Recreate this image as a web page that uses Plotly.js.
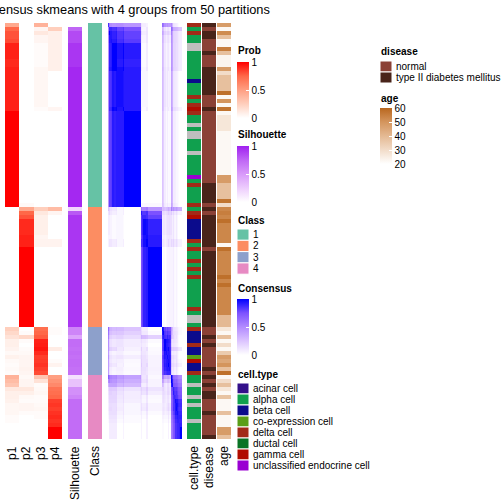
<!DOCTYPE html>
<html><head><meta charset="utf-8">
<script src="https://cdn.plot.ly/plotly-3.0.1.min.js"></script>
<style>html,body{margin:0;padding:0;background:#fff}#chart{width:504px;height:504px}</style>
</head><body><div id="chart"></div>
<script>
// ---------------- data (one entry per sample/row, top to bottom) ----------------
const p1 = [
0.45,0.75,0.8,0.8,0.82,0.92,0.92,0.92,0.92,0.9,
0.9,0.92,0.92,0.92,0.92,0.92,0.92,0.92,0.92,0.92,
0.92,0.92,1,1,1,1,1,1,1,1,
1,1,1,1,1,1,1,1,1,1,
1,1,1,1,1,1,
0,0,0,0,0,0,0,0,0,0,0,0,0,0,0,0,0,0,0,0,0,0,0,0,0,0,0,0,0,0,
0.25,0.2,0.15,0.08,0.08,0.06,0.03,0.07,0.03,0.02,0.03,0.02,
0.4,0.35,0.3,0.12,0.08,0.08,0.07,0.04,0.04,0.04,0.02,0.02,0,0,0,0];
const p2 = [
0,0,0,0,0,0,0,0,0,0,0,0,0,0,0,0,0,0,0,0,0,0,0,0,0,0,0,0,0,0,
0,0,0,0,0,0,0,0,0,0,0,0,0,0,0,0.03,
0.45,0.75,0.8,0.9,0.9,0.9,0.9,0.92,0.92,0.92,
1,1,1,1,1,1,1,1,1,1,1,1,1,1,1,1,1,1,1,1,
0,0.02,0.2,0.02,0,0.02,0.03,0.05,0.05,0.05,0.06,0.05,
0.03,0.05,0.05,0.12,0.08,0.03,0.02,0.05,0.05,0.02,0,0,0,0,0,0];
const p3 = [
0.4,0.05,0.12,0.05,0.05,0.02,0.02,0.02,0.02,0.02,
0.02,0.04,0.04,0.04,0.04,0.04,0.04,0.04,0.04,0.04,
0.04,0.02,0,0,0,0,0,0,0,0,0,0,0,0,0,0,0,0,0,0,0,0,0,0,0,0,
0.25,0.12,0.08,0.08,0.08,0.08,0.08,0.05,0.06,0.06,
0,0,0,0,0,0,0,0,0,0,0,0,0,0,0,0,0,0,0,0,
0.72,0.75,0.78,0.92,0.93,0.95,0.9,0.85,0.86,0.88,0.85,0.82,
0.3,0.15,0.02,0.03,0.04,0.02,0.02,0.03,0.04,0.02,0.02,0,0,0,0,0];
const p4 = [
0,0.25,0.08,0.08,0.08,0.08,0.08,0.08,0.08,0.08,
0.08,0.08,0,0,0,0,0,0,0,0,
0,0.05,0,0,0,0,0,0,0,0,0,0,0,0,0,0,0,0,0,0,0,0,0,0,0,0,
0.35,0.05,0,0,0,0,0,0,0.06,0.06,
0,0,0,0,0,0,0,0,0,0,0,0,0,0,0,0,0,0,0,0,
0.02,0.02,0,0,0,0.1,0,0,0.02,0.06,0,0,
0.5,0.55,0.6,0.7,0.72,0.75,0.85,0.87,0.85,0.88,0.9,0.88,0.9,1,1,1];
const silhouette = [
0,0.75,0.85,0.85,0.85,0.92,0.92,0.92,0.92,0.92,
0.92,0.97,0.97,0.97,0.97,0.97,0.97,0.97,0.97,0.97,
0.97,0.97,0.97,0.97,0.97,0.97,0.97,0.97,0.97,0.97,
0.97,0.97,0.97,0.97,0.97,0.97,0.97,0.97,0.97,0.97,
0.97,0.97,0.97,0.97,0.97,0.97,
0.2,0.8,0.92,0.92,0.92,0.92,0.92,0.92,0.92,0.92,
0.92,0.92,0.92,0.92,0.92,0.92,0.92,0.92,0.92,0.92,
0.92,0.92,0.92,0.92,0.92,0.92,0.92,0.92,0.92,0.92,
0.6,0.6,0.45,0.72,0.72,0.7,0.72,0.7,0.72,0.72,0.7,0.7,
0.15,0.3,0.3,0.55,0.55,0.6,0.72,0.72,0.72,0.72,0.72,0.72,0.72,0.72,0.72,0.72];
const classOf = [
1,1,1,1,1,1,1,1,1,1,1,1,1,1,1,1,1,1,1,1,1,1,1,1,1,1,1,1,1,1,
1,1,1,1,1,1,1,1,1,1,1,1,1,1,1,1,
2,2,2,2,2,2,2,2,2,2,2,2,2,2,2,2,2,2,2,2,2,2,2,2,2,2,2,2,2,2,
3,3,3,3,3,3,3,3,3,3,3,3,
4,4,4,4,4,4,4,4,4,4,4,4,4,4,4,4];
// cell.type codes: A acinar, L alpha, B beta, C co-expression, D delta, U ductal, G gamma, X unclassified, N missing
const cellTypeCodes = (
  "DLDLLNNLLL" + "LLLLBLLLDL" + "DGDLLNLNNL" + "LLNLLLLLXL" + "DLLLLD" +
  "LDGBBBBBDLDLLDLDLDLLLLLLLDLNNL" +
  "DBBBDBBCGBBD" +
  "LLNLLNLNLLLNLLLL").split("");
// disease codes: n normal, t type II diabetes mellitus
const diseaseCodes = (
  "tnttnnntnn" + "ntttttttnn" + "ntnnnnnnnn" + "nnnnnnnnnn" + "tttttn" +
  "tnttttttttnttttttttttttttttttt" +
  "nntntnnnnntn" +
  "tntnttnnntnnnnnt").split("");
const age = [
48,22,52,38,22,22,55,38,23,23,23,48,30,38,38,38,38,58,22,50,
22,57,22,27,27,27,27,22,22,22,22,22,22,22,22,22,22,22,48,48,
38,38,38,38,57,30,
53,55,53,58,53,53,53,53,53,22,58,53,53,53,53,53,53,58,53,58,
53,53,53,53,53,53,53,40,40,40,
27,22,38,22,30,22,35,48,45,50,38,58,
22,30,38,27,22,37,22,22,22,38,22,22,22,48,48,38];

const classLabels = ["1","2","3","4"];
const classColors = ["#66C2A5","#FC8D62","#8DA0CB","#E78AC3"];
const cellTypeKeys = ["A","L","B","C","D","U","G","X"];
const cellTypeLabels = ["acinar cell","alpha cell","beta cell","co-expression cell","delta cell","ductal cell","gamma cell","unclassified endocrine cell"];
const cellTypeColors = ["#33108A","#10A04E","#0B0B8C","#5A9E18","#A22A18","#0A7325","#B00C00","#9A00D2"];
const naColor = "#BEBEBE";
const diseaseKeys = ["n","t"];
const diseaseLabels = ["normal","type II diabetes mellitus"];
const diseaseColors = ["#8B4136","#49241A"];
const columnLabels = ["p1","p2","p3","p4","Silhouette","Class","cell.type","disease","age"];

// ---------------- layout constants (pixels) ----------------
const W = 504, H = 504;
const TOP = 23, BOTTOM = 439;
const N = p1.length;
const FONT = "Liberation Sans, Arial, Helvetica, sans-serif";
const px = v => v / W;
const py = v => 1 - v / H;

const rowEdges = Array.from({length: N + 1}, (_, i) => i);
const col = v => v.map(x => [x]);

const probScale = [[0,'#FFFFFF'],[0.25,'#FFCFBD'],[0.5,'#FF9F82'],[0.75,'#FF6848'],[1,'#FF0000']];
const silScale = [[0,'#FFFFFF'],[0.25,'#EDCCFD'],[0.5,'#D89AFA'],[0.75,'#BF66F5'],[1,'#A020F0']];
const consScale = [[0,'#FFFFFF'],[0.25,'#DCC4FF'],[0.5,'#B28BFF'],[0.75,'#7D52FF'],[1,'#0000FF']];
const ageScale = [[0,'#FFFFFF'],[0.25,'#F2DCC9'],[0.5,'#E4B993'],[0.75,'#D4955D'],[1,'#B9671E']];

function discreteScale(colors){
  const n = colors.length, s = [];
  colors.forEach((c,k)=>{ s.push([k/n,c]); s.push([(k+1)/n,c]); });
  return s;
}

// consensus matrix built from membership values
const P = p1.map((_, i) => [p1[i], p2[i], p3[i], p4[i]]);
const consensus = P.map(a => P.map(b => Math.min(1, a.reduce((s, v, k) => s + Math.min(v, b[k]), 0))));

const ctIdx = cellTypeCodes.map(c => { const k = cellTypeKeys.indexOf(c); return k < 0 ? cellTypeKeys.length : k; });
const dzIdx = diseaseCodes.map(c => diseaseKeys.indexOf(c));
const clIdx = classOf.map(c => classLabels.indexOf(String(c)));

const base = {type:'heatmap', y: rowEdges, hoverinfo:'skip', zsmooth:false};
const cb = (x, ytop, len, tickvals, ticktext) => ({
  x: px(x), xanchor:'left', y: py(ytop), yanchor:'top',
  len: len, lenmode:'pixels', thickness: 12, thicknessmode:'pixels',
  xpad:0, ypad:0, outlinewidth:0, borderwidth:0,
  tickvals, ticktext, ticks:'inside', ticklen:3, tickcolor:'white', tickwidth:1,
  tickfont:{family:FONT, size:10, color:'#000'}
});

const traces = [
  Object.assign({}, base, {x:[5,19.25,33.5,47.75,62], z: P, coloraxis:'coloraxis'}),
  Object.assign({}, base, {x:[68,82], z: col(silhouette), coloraxis:'coloraxis2'}),
  Object.assign({}, base, {x:[88,102], z: col(clIdx), colorscale: discreteScale(classColors), zmin:-0.5, zmax:classColors.length-0.5, showscale:false}),
  Object.assign({}, base, {x: rowEdges, xaxis:'x2', z: consensus, coloraxis:'coloraxis3'}),
  Object.assign({}, base, {x:[187,201], z: col(ctIdx), colorscale: discreteScale(cellTypeColors.concat([naColor])), zmin:-0.5, zmax:cellTypeColors.length+0.5, showscale:false}),
  Object.assign({}, base, {x:[202,216], z: col(dzIdx), colorscale: discreteScale(diseaseColors), zmin:-0.5, zmax:diseaseColors.length-0.5, showscale:false}),
  Object.assign({}, base, {x:[217,231], z: col(age), coloraxis:'coloraxis4'})
];

const annotations = [];
const shapes = [];
annotations.push({text:"Consensus skmeans with 4 groups from 50 partitions", x:px(272), xanchor:'right', y:py(9.5), yanchor:'middle',
  xref:'paper', yref:'paper', showarrow:false, font:{family:FONT, size:12.8, color:'#000'}});
const labelX = [12,26,41,55,75,95,194,209,224];
columnLabels.forEach((t,i)=>annotations.push({text:t, x:px(labelX[i]), xanchor:'center', y:py(444), yanchor:'top', textangle:-90,
  xref:'paper', yref:'paper', showarrow:false, font:{family:FONT, size:12, color:'#000'}}));
const title = (t, x, y) => annotations.push({text:'<b>'+t+'</b>', x:px(x), xanchor:'left', y:py(y), yanchor:'middle',
  xref:'paper', yref:'paper', showarrow:false, font:{family:FONT, size:10, color:'#000'}});
title('Prob',236,51); title('Silhouette',236,135); title('Class',236,220); title('Consensus',236,288.5); title('cell.type',236,374);
title('disease',379,52); title('age',379,98.5);
function discreteLegend(labels, colors, x, y0, step){
  labels.forEach((t,i)=>{
    const y = y0 + i*step;
    shapes.push({type:'rect', xref:'paper', yref:'paper', x0:px(x), x1:px(x+12), y0:py(y), y1:py(y+step),
      fillcolor:colors[i], line:{color:'#FFFFFF', width:1}});
    annotations.push({text:t, x:px(x+14), xanchor:'left', y:py(y+step/2), yanchor:'middle', xref:'paper', yref:'paper',
      showarrow:false, font:{family:FONT, size:10, color:'#000'}});
  });
}
discreteLegend(classLabels, classColors, 237, 229, 11.3);
discreteLegend(cellTypeLabels, cellTypeColors, 237, 383, 11);
discreteLegend(diseaseLabels, diseaseColors, 380, 61, 11);

const layout = {
  width:W, height:H, margin:{l:0,r:0,t:0,b:0,autoexpand:false},
  paper_bgcolor:'#FFFFFF', plot_bgcolor:'rgba(0,0,0,0)', showlegend:false,
  xaxis:{domain:[0,1], range:[0,W], visible:false, fixedrange:true},
  xaxis2:{domain:[px(108),px(182)], range:[0,N], anchor:'y', visible:false, fixedrange:true},
  yaxis:{domain:[py(BOTTOM), py(TOP)], range:[N,0], visible:false, fixedrange:true},
  coloraxis:{colorscale:probScale, cmin:0, cmax:1, colorbar:cb(237,62,56,[0,0.5,1],['0','0.5','1'])},
  coloraxis2:{colorscale:silScale, cmin:0, cmax:1, colorbar:cb(237,146,56,[0,0.5,1],['0','0.5','1'])},
  coloraxis3:{colorscale:consScale, cmin:0, cmax:1, colorbar:cb(237,299,56,[0,0.5,1],['0','0.5','1'])},
  coloraxis4:{colorscale:ageScale, cmin:20, cmax:60, colorbar:cb(380,108,56,[20,30,40,50,60],['20','30','40','50','60'])},
  annotations, shapes
};
Plotly.newPlot('chart', traces, layout, {displayModeBar:false, staticPlot:true});
</script></body></html>
